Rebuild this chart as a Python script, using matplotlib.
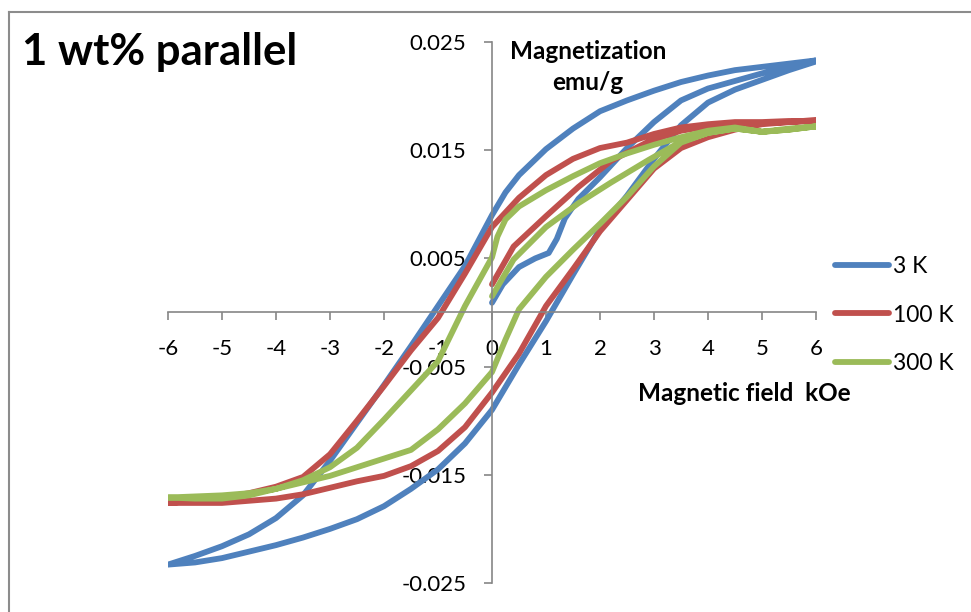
import matplotlib
matplotlib.use('Agg')
import matplotlib.pyplot as plt
from matplotlib.lines import Line2D

plt.rcParams['font.family'] = ['Lato', 'DejaVu Sans']
plt.rcParams['axes.unicode_minus'] = False

# field (kOe) and magnetization (emu/g), loop path: virgin -> down -> up
h_3k = [0, 0.2, 0.5, 0.8, 1.05, 1.2, 1.35, 1.6, 2.0, 2.5, 3.0, 3.5, 4.0, 4.5, 5.0, 5.5, 6.0,
        5.5, 5, 4.5, 4, 3.5, 3, 2.5, 2, 1.5, 1, 0.5, 0.25, 0, -0.5, -1, -1.5, -2, -2.5, -3, -3.5, -4, -4.5, -5, -5.5, -6,
        -5.5, -5, -4.5, -4, -3.5, -3, -2.5, -2, -1.5, -1, -0.5, 0, 0.5, 1, 1.5, 2, 2.5, 3, 3.5, 4, 4.5, 5, 5.5, 6]
m_3k = [0.0009, 0.0026, 0.0042, 0.0050, 0.0055, 0.0068, 0.0087, 0.0105, 0.0125, 0.0152, 0.0176, 0.0196, 0.0207, 0.0214, 0.0221, 0.0227, 0.0233,
        0.0230, 0.0227, 0.0224, 0.0219, 0.0213, 0.0205, 0.0196, 0.0186, 0.0170, 0.0151, 0.0127, 0.0111, 0.0090, 0.0043, 0.0006, -0.0031, -0.0067, -0.0102, -0.0137, -0.0169, -0.0190, -0.0205, -0.0216, -0.0225, -0.0233,
        -0.0231, -0.0227, -0.0221, -0.0215, -0.0208, -0.0200, -0.0191, -0.0179, -0.0163, -0.0145, -0.0121, -0.0090, -0.0048, -0.0008, 0.0035, 0.0077, 0.0108, 0.0142, 0.0173, 0.0194, 0.0206, 0.0215, 0.0224, 0.0232]

h_100k = [0, 0.4, 1.0, 1.6, 2.2, 2.9, 3.5, 4.0, 4.5, 5.0, 5.5, 6,
          5.5, 5, 4.5, 4, 3.5, 3, 2.5, 2, 1.5, 1, 0.5, 0, -0.5, -1, -1.5, -2, -2.5, -3, -3.5, -4, -4.5, -5, -5.5, -6,
          -5.5, -5, -4.5, -4, -3.5, -3, -2.5, -2, -1.5, -1, -0.5, 0, 0.5, 1, 1.5, 2, 2.5, 3, 3.5, 4, 4.5, 5, 5.5, 6]
m_100k = [0.0026, 0.0061, 0.0089, 0.0116, 0.0140, 0.0158, 0.0168, 0.0172, 0.0174, 0.0175, 0.0176, 0.0177,
          0.0177, 0.0176, 0.0176, 0.0174, 0.0171, 0.0165, 0.0157, 0.0152, 0.0142, 0.0127, 0.0106, 0.0079, 0.0036, -0.0005, -0.0035, -0.0068, -0.0100, -0.0131, -0.0152, -0.0161, -0.0167, -0.0171, -0.0174, -0.0176,
          -0.0176, -0.0176, -0.0174, -0.0172, -0.0168, -0.0162, -0.0156, -0.0151, -0.0142, -0.0128, -0.0106, -0.0074, -0.0038, 0.0006, 0.0040, 0.0075, 0.0104, 0.0133, 0.0152, 0.0162, 0.0169, 0.0174, 0.0176, 0.0178]

h_300k = [0, 0.4, 1.0, 1.6, 2.2, 2.9, 3.5, 4.0, 4.5, 5.0, 5.5, 6,
          5.5, 5, 4.5, 4, 3.5, 3, 2.5, 2, 1.5, 1, 0.5, 0.25, 0.1, 0, -0.5, -1, -1.5, -2, -2.5, -3, -3.5, -4, -4.5, -5, -5.5, -6,
          -5.5, -5, -4.5, -4, -3.5, -3, -2.5, -2, -1.5, -1, -0.5, 0, 0.25, 0.5, 1, 1.5, 2, 2.5, 3, 3.5, 4, 4.5, 5, 5.5, 6]
m_300k = [0.0015, 0.0049, 0.0079, 0.0101, 0.0120, 0.0141, 0.0158, 0.0166, 0.0170, 0.0167, 0.0169, 0.0172,
          0.0170, 0.0167, 0.0171, 0.0168, 0.0162, 0.0155, 0.0147, 0.0138, 0.0126, 0.0113, 0.0098, 0.0086, 0.0070, 0.0051, 0.0006, -0.0045, -0.0072, -0.0099, -0.0125, -0.0143, -0.0155, -0.0163, -0.0167, -0.0169, -0.0170, -0.0171,
          -0.0172, -0.0172, -0.0169, -0.0163, -0.0157, -0.0151, -0.0143, -0.0135, -0.0127, -0.0108, -0.0084, -0.0055, -0.0025, 0.0003, 0.0033, 0.0058, 0.0082, 0.0107, 0.0135, 0.0157, 0.0166, 0.0170, 0.0167, 0.0169, 0.0172]

series = [('3 K', h_3k, m_3k, '#4F81BD'),
          ('100 K', h_100k, m_100k, '#C0504D'),
          ('300 K', h_300k, m_300k, '#9BBB59')]

x_ticks = [-6, -5, -4, -3, -2, -1, 0, 1, 2, 3, 4, 5, 6]
y_ticks = [-0.025, -0.015, -0.005, 0.005, 0.015, 0.025]
y_labels = ['-0.025', '-0.015', '-0.005', '0.005', '0.015', '0.025']

W, H = 971, 612
fig = plt.figure(figsize=(W / 100, H / 100), dpi=100)
ax = fig.add_axes([168 / W, 1 - 583 / H, (816 - 168) / W, (583 - 42) / H])

for name, h, m, c in series:
    ax.plot(h, m, color=c, lw=4.2, label=name, solid_joinstyle='round', solid_capstyle='round')

ax.set_xlim(-6, 6)
ax.set_ylim(-0.025, 0.025)
ax.set_xticks(x_ticks)
ax.set_xticklabels([str(v) for v in x_ticks])
ax.set_yticks(y_ticks)
ax.set_yticklabels(y_labels)

grey = '#868686'
for s in ['top', 'right']:
    ax.spines[s].set_visible(False)
ax.spines['left'].set_position(('data', 0))
ax.spines['bottom'].set_position(('data', 0))
for s in ['left', 'bottom']:
    ax.spines[s].set_color(grey)
    ax.spines[s].set_linewidth(1.2)
ax.tick_params(axis='both', direction='out', length=5.8, width=1.2, color=grey, labelsize=16, labelcolor='black')
ax.tick_params(axis='x', pad=13)
ax.tick_params(axis='y', pad=12.5)

# chart area border (only left and top edges visible)
fig.add_artist(Line2D([9 / W, 9 / W], [0, 1 - 12 / H], color='#8c8c8c', lw=1.5))
fig.add_artist(Line2D([9 / W, 1], [1 - 12 / H, 1 - 12 / H], color='#8c8c8c', lw=1.5))

fig.text(22 / W, 1 - 65 / H, '1 wt% parallel', fontsize=31.5, fontweight='bold', va='baseline')
fig.text(588 / W, 1 - 59 / H, 'Magnetization', fontsize=17.5, fontweight='bold', ha='center', va='baseline')
fig.text(588 / W, 1 - 90 / H, 'emu/g', fontsize=17.5, fontweight='bold', ha='center', va='baseline')
fig.text(744 / W, 1 - 401 / H, 'Magnetic field  kOe', fontsize=17.5, fontweight='bold', ha='center', va='baseline')

ax.legend(loc='upper left', bbox_to_anchor=(835 / W, 1 - 256 / H), bbox_transform=fig.transFigure,
          frameon=False, fontsize=16.5, handlelength=2.35, handletextpad=0.17, labelspacing=1.2,
          borderpad=0, borderaxespad=0)

fig.savefig('out.png', dpi=100)
